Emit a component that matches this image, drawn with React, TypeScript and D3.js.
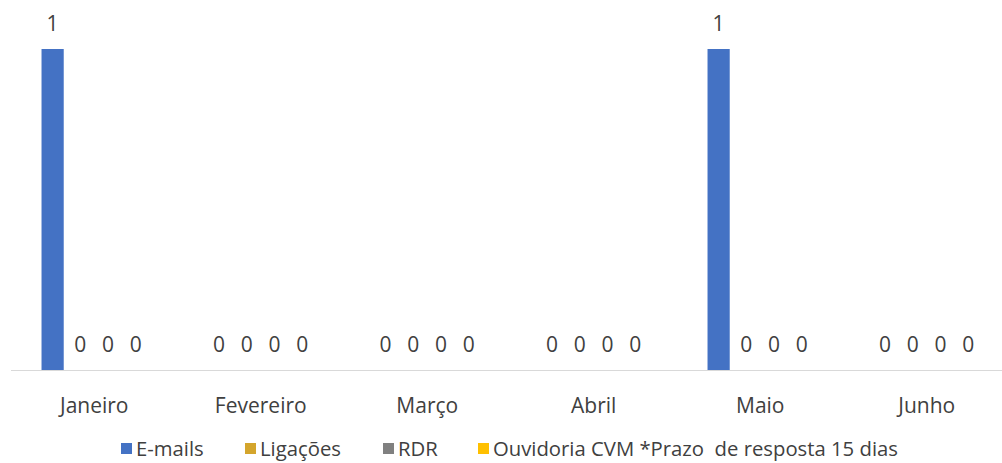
import React from "react";
import * as d3 from "d3";

const months = ["Janeiro", "Fevereiro", "Março", "Abril", "Maio", "Junho"];
const seriesNames = ["E-mails", "Ligações", "RDR", "Ouvidoria CVM *Prazo  de resposta 15 dias"];
const emails = [1, 0, 0, 0, 1, 0];
const ligacoes = [0, 0, 0, 0, 0, 0];
const rdr = [0, 0, 0, 0, 0, 0];
const ouvidoria = [0, 0, 0, 0, 0, 0];
const colors = ["#4472C4", "#D4A52C", "#808080", "#FFC000"];

const W = 1002;
const H = 463;
const font = "'Open Sans', sans-serif";
const fs = 21;

export default function App() {
  const seriesValues = [emails, ligacoes, rdr, ouvidoria];
  const x0 = d3.scaleBand<string>().domain(months).range([11, 1010]).paddingInner(0).paddingOuter(0);
  const x1 = d3
    .scaleBand<number>()
    .domain(d3.range(4))
    .range([0, x0.bandwidth()])
    .paddingInner(0.2)
    .paddingOuter(1.1);
  const y = d3.scaleLinear().domain([0, 1]).range([370, 49]);

  const legendX = [121, 245, 383, 478];
  const textColor = "#404040";

  return (
    <svg width={W} height={H} style={{ position: "absolute", left: 0, top: 0, background: "#fff" }}>
      <line x1={11} x2={1002} y1={370.5} y2={370.5} stroke="#D9D9D9" strokeWidth={1} />
      {months.map((m, i) => (
        <g key={m}>
          {seriesValues.map((vals, s) => {
            const v = vals[i];
            const bx = (x0(m) as number) + (x1(s) as number);
            const bw = x1.bandwidth();
            return (
              <g key={s}>
                {v > 0 && (
                  <rect x={bx} y={y(v)} width={bw} height={y(0) - y(v)} fill={colors[s]} />
                )}
                {!(s === 0 && v === 0 && (i === 0 || i === 4)) && (
                  <text
                    x={bx + bw / 2}
                    y={y(v) - 26}
                    textAnchor="middle"
                    dominantBaseline="central"
                    fontFamily={font}
                    fontSize={fs}
                    fill={textColor}
                  >
                    {v}
                  </text>
                )}
              </g>
            );
          })}
          <text
            x={(x0(m) as number) + x0.bandwidth() / 2}
            y={405}
            textAnchor="middle"
            dominantBaseline="central"
            fontFamily={font}
            fontSize={fs}
            fill={textColor}
          >
            {m}
          </text>
        </g>
      ))}
      {seriesNames.map((n, s) => (
        <g key={n}>
          <rect x={legendX[s]} y={443} width={11} height={11} fill={colors[s]} />
          <text
            x={legendX[s] + 15}
            y={448}
            dominantBaseline="central"
            fontFamily={font}
            fontSize={20.3}
            fill={textColor}
            style={{ whiteSpace: "pre" }}
          >
            {n}
          </text>
        </g>
      ))}
    </svg>
  );
}
